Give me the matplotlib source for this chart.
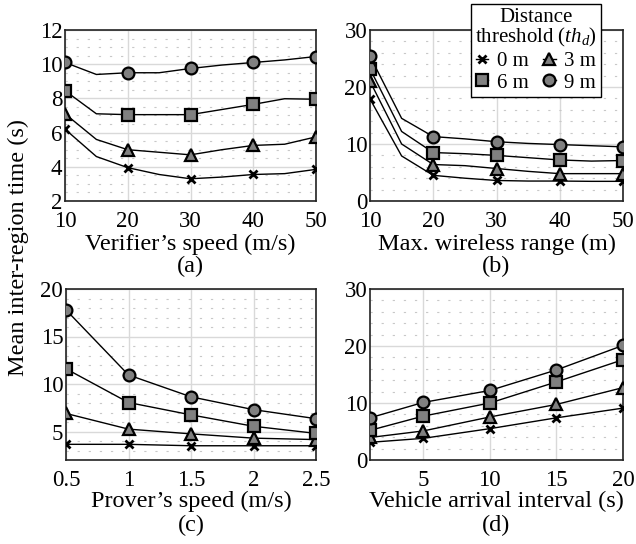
import numpy as np
import matplotlib
matplotlib.use('Agg')
from matplotlib import pyplot as plt
from matplotlib.ticker import MultipleLocator

plt.rcParams['font.family'] = ['Liberation Serif', 'DejaVu Serif']
plt.rcParams['mathtext.fontset'] = 'custom'
plt.rcParams['mathtext.it'] = 'Liberation Serif:italic'
plt.rcParams['mathtext.rm'] = 'Liberation Serif'

labels = ['0 m', '3 m', '6 m', '9 m']
markers = ['x', '^', 's', 'o']

# (a) verifier's speed
x_a = [10, 15, 20, 25, 30, 35, 40, 45, 50]
a_0 = [6.2, 4.6, 3.95, 3.55, 3.3, 3.4, 3.55, 3.6, 3.85]
a_3 = [7.1, 5.6, 5.0, 4.85, 4.7, 5.0, 5.25, 5.32, 5.75]
a_6 = [8.45, 7.1, 7.05, 7.05, 7.05, 7.35, 7.65, 7.98, 7.95]
a_9 = [10.1, 9.4, 9.5, 9.5, 9.75, 9.95, 10.1, 10.25, 10.45]

# (b) max. wireless range
x_b = [10, 15, 20, 25, 30, 35, 40, 45, 50]
b_0 = [17.9, 7.9, 4.5, 4.0, 3.6, 3.5, 3.5, 3.45, 3.45]
b_3 = [21.0, 10.0, 6.4, 6.2, 5.7, 5.2, 4.8, 4.8, 4.8]
b_6 = [23.2, 12.2, 8.5, 8.3, 8.0, 7.6, 7.2, 7.0, 7.1]
b_9 = [25.4, 14.5, 11.3, 10.9, 10.4, 10.1, 9.9, 9.7, 9.5]

# (c) prover's speed
x_c = [0.5, 1, 1.5, 2, 2.5]
c_0 = [3.65, 3.65, 3.5, 3.5, 3.5]
c_3 = [6.9, 5.25, 4.75, 4.3, 4.15]
c_6 = [11.6, 8.05, 6.75, 5.55, 4.8]
c_9 = [17.8, 10.95, 8.65, 7.3, 6.35]

# (d) vehicle arrival interval
x_d = [1, 5, 10, 15, 20]
d_0 = [3.1, 3.8, 5.5, 7.4, 9.1]
d_3 = [3.95, 5.1, 7.55, 9.75, 12.7]
d_6 = [5.2, 7.7, 10.0, 13.7, 17.6]
d_9 = [7.4, 10.1, 12.2, 15.8, 20.1]

W, H = 636, 544
fig = plt.figure(figsize=(W / 100, H / 100), dpi=100)


def px_axes(l, t, r, b):
    return fig.add_axes([l / W, 1 - b / H, (r - l) / W, (b - t) / H])


def draw(ax, x, series, every, xlim, ylim, major, minor, xticks, xlabel, tag,
         ylab_y, tag_y):
    for ys, m, lab in zip(series, markers, labels):
        if m == 'x':
            ax.plot(x, ys, color='black', lw=1, marker='x', ms=6, mew=2,
                    mec='black', markevery=every, label=lab, zorder=3)
        else:
            ax.plot(x, ys, color='black', lw=1, marker=m, ms=8.5, mew=1.6,
                    mfc='#808080', mec='black', markevery=every, label=lab,
                    zorder=3)
    ax.set_xlim(*xlim)
    ax.set_ylim(*ylim)
    ax.set_xticks(xticks)
    ax.set_xticklabels([('%g' % t) for t in xticks])
    ax.yaxis.set_major_locator(MultipleLocator(major))
    ax.yaxis.set_minor_locator(MultipleLocator(minor))
    ax.grid(True, which='major', color='#d9d9d9', lw=1.0, zorder=0)
    ax.grid(True, which='minor', axis='y', color='#c8c8c8', lw=0.8,
            linestyle=(0, (2, 8)), zorder=0)
    ax.set_axisbelow(True)
    ax.tick_params(which='both', direction='in', length=0, labelsize=16.5)
    ax.tick_params(axis='x', pad=7.5)
    ax.tick_params(axis='y', pad=2)
    for s in ax.spines.values():
        s.set_linewidth(1.2)
        s.set_color('#222222')
    pos = ax.get_position()
    cx = pos.x0 + pos.width / 2
    fig.text(cx, 1 - ylab_y / H, xlabel, ha='center', va='center',
             fontsize=17.5)
    fig.text(cx, 1 - tag_y / H, tag, ha='center', va='center', fontsize=17.5)


ax_a = px_axes(65, 30, 316, 201)
draw(ax_a, x_a, [a_0, a_3, a_6, a_9], 2, (10, 50), (2, 12), 2, 0.5,
     [10, 20, 30, 40, 50], 'Verifier\u2019s speed (m/s)', '(a)', 244, 266)

ax_b = px_axes(370, 30, 623, 201)
draw(ax_b, x_b, [b_0, b_3, b_6, b_9], 2, (10, 50), (0, 30), 10, 2,
     [10, 20, 30, 40, 50], 'Max. wireless range (m)', '(b)', 244, 266)

ax_c = px_axes(66, 289, 316, 460)
draw(ax_c, x_c, [c_0, c_3, c_6, c_9], 1, (0.5, 2.5), (2, 20), 5, 1,
     [0.5, 1, 1.5, 2, 2.5], 'Prover\u2019s speed (m/s)', '(c)', 501, 525)

ax_d = px_axes(370, 289, 623, 460)
draw(ax_d, x_d, [d_0, d_3, d_6, d_9], 1, (1, 20), (0, 30), 10, 2,
     [5, 10, 15, 20], 'Vehicle arrival interval (s)', '(d)', 501, 525)

fig.text(18 / W, 1 - 248 / H, 'Mean inter-region time (s)', rotation=90,
         ha='center', va='center', fontsize=17.5)

h, l = ax_b.get_legend_handles_labels()
order = [0, 2, 1, 3]
leg = ax_b.legend([h[i] for i in order], [l[i] for i in order], ncol=2,
                  title='Distance\nthreshold ($th_d$)',
                  loc='upper right', bbox_to_anchor=(601 / W, 1 - 4 / H),
                  bbox_transform=fig.transFigure, fontsize=15,
                  title_fontsize=15, frameon=True, fancybox=False,
                  edgecolor='black', framealpha=1, handlelength=0.6,
                  handletextpad=0.4, columnspacing=0.7, labelspacing=0.1,
                  borderpad=0.2, borderaxespad=0)
leg.get_frame().set_linewidth(1.0)
leg.get_title().set_multialignment('center')
leg.get_title().set_linespacing(0.95)
leg.set_zorder(10)

fig.savefig('out.png', dpi=100)
